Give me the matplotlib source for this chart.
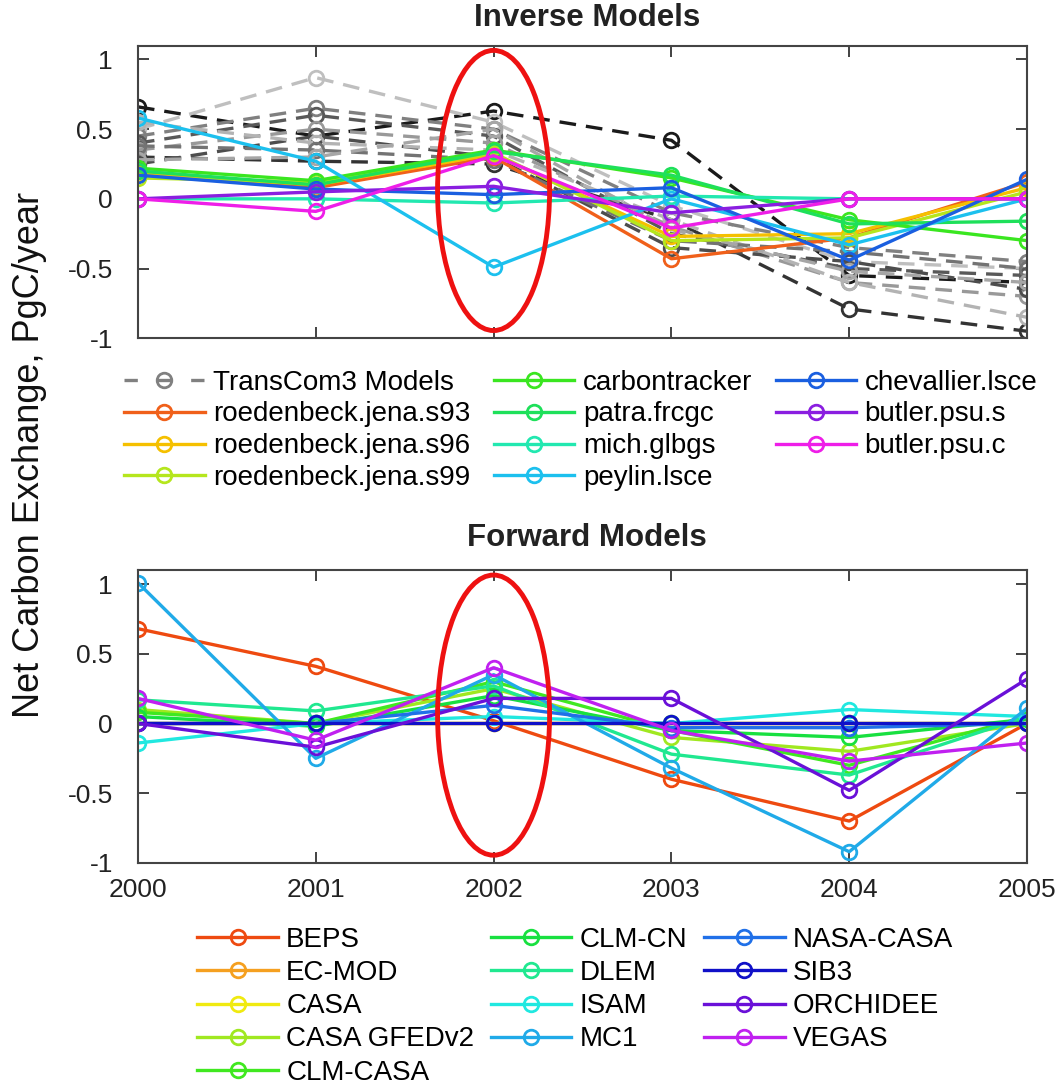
import numpy as np
import matplotlib
matplotlib.use("Agg")
import matplotlib.pyplot as plt
from matplotlib.lines import Line2D
from matplotlib.patches import Ellipse

plt.rcParams['font.family'] = ['Liberation Sans', 'DejaVu Sans']
plt.rcParams['axes.unicode_minus'] = False

years = [2000, 2001, 2002, 2003, 2004, 2005]

# TransCom3 inverse models (dashed grey lines)
tc_shades = [0.1, 0.2, 0.75, 0.5, 0.35, 0.6, 0.3, 0.7, 0.45, 0.65]
tc_values = [
    [0.66, 0.45, 0.63, 0.42, -0.55, -0.60],
    [0.30, 0.27, 0.25, -0.15, -0.79, -0.95],
    [0.50, 0.87, 0.55, -0.05, -0.45, -0.50],
    [0.45, 0.65, 0.50, -0.10, -0.35, -0.45],
    [0.40, 0.60, 0.45, -0.25, -0.50, -0.55],
    [0.35, 0.50, 0.40, -0.20, -0.60, -0.70],
    [0.25, 0.45, 0.30, -0.35, -0.45, -0.65],
    [0.55, 0.40, 0.35, -0.15, -0.60, -0.85],
    [0.38, 0.35, 0.28, -0.30, -0.38, -0.50],
    [0.28, 0.30, 0.50, -0.22, -0.52, -0.60],
]

# other inverse models
inv_names = ['roedenbeck.jena.s93', 'roedenbeck.jena.s96', 'roedenbeck.jena.s99',
             'carbontracker', 'patra.frcgc', 'mich.glbgs', 'peylin.lsce',
             'chevallier.lsce', 'butler.psu.s', 'butler.psu.c']
inv_colors = ['#f0601a', '#f5c000', '#b5e61d', '#3ae620', '#1ee05a', '#22e8b0',
              '#1cc0ee', '#1a5fe0', '#8a1ee0', '#ee1ee8']
inv_values = [
    [0.20, 0.08, 0.30, -0.43, -0.28, 0.12],
    [0.18, 0.10, 0.32, -0.27, -0.25, 0.08],
    [0.15, 0.12, 0.33, -0.30, -0.28, 0.05],
    [0.22, 0.13, 0.35, 0.15, -0.15, -0.30],
    [0.20, 0.10, 0.34, 0.17, -0.18, -0.16],
    [0.00, 0.00, -0.03, 0.02, 0.00, 0.00],
    [0.58, 0.27, -0.49, 0.00, -0.33, 0.00],
    [0.17, 0.07, 0.03, 0.08, -0.44, 0.14],
    [0.00, 0.05, 0.09, -0.10, 0.00, 0.00],
    [0.00, -0.09, 0.31, -0.21, 0.00, 0.00],
]

# forward models
fwd_names = ['BEPS', 'EC-MOD', 'CASA', 'CASA GFEDv2', 'CLM-CASA', 'CLM-CN', 'DLEM',
             'ISAM', 'MC1', 'NASA-CASA', 'SIB3', 'ORCHIDEE', 'VEGAS']
fwd_colors = ['#ee4a10', '#f5a020', '#f0ea10', '#a0e820', '#40e820', '#18e040',
              '#20e890', '#20e8e0', '#20aae8', '#2070e8', '#1010c8', '#6a10d8', '#c020f0']
fwd_values = [
    [0.68, 0.41, 0.02, -0.40, -0.70, 0.00],
    [0.00, 0.00, 0.00, 0.00, 0.00, 0.00],
    [0.00, 0.00, 0.00, 0.00, 0.00, 0.00],
    [0.10, 0.00, 0.25, -0.10, -0.20, 0.00],
    [0.08, 0.00, 0.30, -0.05, -0.30, 0.05],
    [0.05, -0.02, 0.20, -0.05, -0.10, 0.03],
    [0.17, 0.09, 0.27, -0.22, -0.37, 0.05],
    [-0.14, 0.00, 0.05, 0.00, 0.10, 0.05],
    [1.01, -0.25, 0.35, -0.32, -0.92, 0.11],
    [0.00, 0.00, 0.13, -0.03, -0.03, 0.00],
    [0.00, 0.00, 0.00, 0.00, 0.00, 0.00],
    [0.00, -0.17, 0.18, 0.18, -0.48, 0.32],
    [0.18, -0.12, 0.40, -0.05, -0.27, -0.14],
]

yticks = [-1, -0.5, 0, 0.5, 1]
ytick_labels = ['-1', '-0.5', '0', '0.5', '1']

fig = plt.figure(figsize=(10.61, 10.84), dpi=100)
ax1 = fig.add_axes([0.130, 0.688, 0.838, 0.270])
ax2 = fig.add_axes([0.130, 0.204, 0.838, 0.270])

lw = 2.4
ms = 10.5
mew = 2

# top panel
for shade, vals in zip(tc_shades, tc_values):
    c = str(shade)
    ax1.plot(years, vals, color=c, lw=2.4, ls=(0, (5, 3)), marker='o', ms=ms,
             mfc='none', mec=c, mew=mew)
inv_handles = []
for name, c, vals in zip(inv_names, inv_colors, inv_values):
    h, = ax1.plot(years, vals, color=c, lw=lw, marker='o', ms=ms, mfc='none',
                  mec=c, mew=mew, label=name)
    inv_handles.append(h)

# bottom panel
fwd_handles = []
for name, c, vals in zip(fwd_names, fwd_colors, fwd_values):
    h, = ax2.plot(years, vals, color=c, lw=lw, marker='o', ms=ms, mfc='none',
                  mec=c, mew=mew, label=name)
    fwd_handles.append(h)

for ax in (ax1, ax2):
    ax.set_xlim(2000, 2005)
    ax.set_ylim(-1, 1.1)
    ax.set_yticks(yticks)
    ax.set_yticklabels(ytick_labels)
    ax.set_xticks(years)
    ax.tick_params(direction='in', length=8, width=1.2, top=True, right=True,
                   labelsize=19, colors='#222222')
    ax.tick_params(axis='y', pad=18)
    ax.tick_params(axis='x', pad=11)
    for sp in ax.spines.values():
        sp.set_color('#444444')
        sp.set_linewidth(1.5)
    # red ellipse round 2002
    ax.add_patch(Ellipse((2002, 0.06), 0.63, 2.01, fill=False, edgecolor='#ee1111',
                         lw=3.5, zorder=10, clip_on=False))

ax1.set_xticklabels([])
ax2.set_xticklabels([str(y) for y in years])

fig.text(0.553, 0.983, 'Inverse Models', ha='center', va='center',
         fontsize=22.5, fontweight='bold', color='#222222')
fig.text(0.553, 0.504, 'Forward Models', ha='center', va='center',
         fontsize=22.5, fontweight='bold', color='#222222')
fig.text(0.028, 0.58, 'Net Carbon Exchange, PgC/year', rotation=90,
         ha='center', va='center', fontsize=26, color='#111111')

tc_proxy = Line2D([], [], color='0.5', lw=2.4, ls=(0, (4, 6)), marker='o', ms=ms,
                  mfc='none', mec='0.5', mew=mew)
fig.legend([tc_proxy] + inv_handles, ['TransCom3 Models'] + inv_names,
           loc='upper left', bbox_to_anchor=(0.117, 0.659), ncol=3, frameon=False,
           fontsize=20, handlelength=2.9, handletextpad=0.3, labelspacing=0.21,
           columnspacing=0.85, numpoints=1, borderpad=0, borderaxespad=0)

fig.legend(fwd_handles, fwd_names,
           loc='upper left', bbox_to_anchor=(0.186, 0.145), ncol=3, frameon=False,
           fontsize=20, handlelength=2.9, handletextpad=0.3, labelspacing=0.26,
           columnspacing=0.6, numpoints=1, borderpad=0, borderaxespad=0)

fig.savefig('out.png', dpi=100)
